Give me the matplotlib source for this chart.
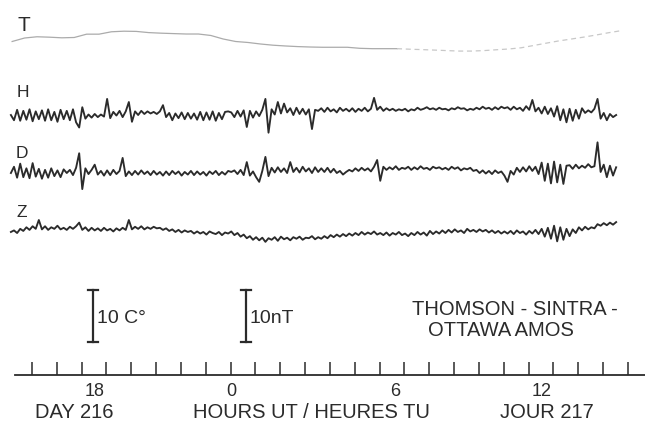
import matplotlib.pyplot as plt
import numpy as np

plt.rcParams['font.family'] = ['Liberation Sans', 'DejaVu Sans']

######### data #########

# magnetometer samples every 7.5 min (nT, relative to each trace's baseline)
sample_start = -8.85   # hours UT relative to 0h day 217
sample_step = 0.125

h_nt = [-0.2, -1.2, 0.8, -1.3, 0.6, -1.1, 0.9, -1.4, 0.5, -1.0,
        0.7, -1.3, 0.9, -1.2, 0.4, -1.5, 0.8, -1.0, 0.6, -1.2,
        0.9, -1.6, -2.6, 1.3, -0.9, -0.1, -0.7, 0.0, -0.6, -0.1,
        -0.5, 2.9, -0.8, 0.4, -0.3, 0.6, -0.6, 0.5, 2.3, -1.5,
        0.5, -0.2, 0.6, 0.0, 0.5, 0.1, 0.4, 0.0, 0.5, 1.7,
        -0.6, 0.2, -1.2, 0.1, -0.8, 0.3, -1.0, 0.2, -0.9, 0.1,
        -1.1, 0.4, -1.2, 0.3, -1.1, 0.5, -1.3, 0.2, -1.0, 0.4,
        0.5, 0.3, -0.6, 0.6, -0.5, 0.7, -2.5, 0.6, -0.7, 0.5,
        -0.4, 0.8, 2.9, -3.6, 0.9, -0.1, 2.3, 0.1, 2.0, 0.3,
        1.1, -0.2, 1.2, 0.0, 1.0, -0.1, 0.9, -2.9, 0.8, 0.6,
        1.1, 0.4, 1.2, 0.5, 0.9, 0.3, 1.2, 0.6, 1.0, 0.5,
        1.1, 0.4, 1.0, 0.6, 1.2, 0.5, 1.0, 3.1, 0.8, 1.4,
        0.6, 1.1, 0.7, 1.0, 0.6, 0.9, 0.7, 1.0, 0.5, 0.9,
        0.7, 1.2, 0.8, 1.0, 1.3, 0.9, 1.1, 0.8, 1.2, 0.9,
        1.0, 0.7, 1.1, 0.9, 1.3, 1.0, 1.1, 0.7, 1.0, 0.8,
        1.2, 0.9, 1.4, 1.0, 1.2, 0.8, 1.3, 0.9, 1.4, 1.1,
        1.3, 0.8, 1.4, 0.9, 1.2, 0.6, 1.5, 0.8, 2.7, 0.5,
        1.2, 0.1, 1.4, 0.0, 1.1, -0.5, 1.5, -1.2, 0.9, -1.6,
        1.0, -1.3, 0.8, -0.9, 1.1, 0.2, 0.7, 0.3, 1.0, 2.9,
        -0.9, 0.2, -1.2, 0.0, -0.6, -0.2]

d_nt = [0.0, 1.2, -0.9, 1.8, -0.8, 0.9, -1.0, 1.9, -0.7, 0.8,
        -1.1, 0.6, -0.9, 0.9, -0.6, 0.5, -0.8, 0.7, 0.0, 0.6,
        -0.4, 1.0, 3.8, -3.1, 0.9, -0.2, 0.6, 1.6, -0.3, 0.4,
        -0.5, 0.5, -0.4, 0.6, -0.2, 0.4, 2.9, -0.6, 0.3, -0.4,
        0.4, -0.3, 0.5, -0.2, 0.3, -0.4, 0.4, -0.3, 0.2, -0.5,
        0.3, -0.4, 0.4, -0.2, 0.3, -0.5, 0.2, -0.3, 0.4, -0.4,
        0.3, -0.3, 0.2, -0.5, 0.3, -0.2, 0.4, -0.4, 0.2, -0.3,
        0.4, 0.2, 0.5, -0.2, 0.6, -0.4, 2.1, -0.5, 0.3, -0.8,
        -1.7, 0.4, 3.1, -0.6, 1.0, 0.1, 1.1, 0.2, 0.9, 0.0,
        2.1, 0.2, 1.0, 0.1, 1.2, 0.3, 0.9, 0.0, 1.1, 0.2,
        0.9, 0.2, 1.0, 0.1, 0.8, 0.0, 0.4, -0.3, 0.2, 0.6,
        0.3, 0.9, 0.4, 1.0, 0.5, 0.9, 0.3, 1.2, 2.5, -1.5,
        1.2, 0.6, 1.1, 0.7, 1.3, 0.6, 1.0, 0.8, 1.2, 0.6,
        1.1, 0.7, 1.3, 0.8, 1.0, 0.6, 1.2, 0.9, 1.1, 0.7,
        1.0, 0.6, 1.2, 0.8, 1.1, 0.5, 0.9, 0.7, 1.0, 0.4,
        0.6, 0.0, 0.5, -0.1, 0.4, -0.2, 0.5, 0.0, 0.3, -0.5,
        -1.7, 0.4, -0.3, 1.0, 0.2, 1.1, 0.3, 1.3, 0.4, 1.2,
        -0.2, 2.0, -1.5, 1.8, -2.0, 2.2, -1.8, 1.6, -2.1, 1.4,
        1.5, 0.8, 1.6, 0.9, 1.4, 1.0, 1.7, 1.1, 1.3, 5.9,
        0.2, 1.6, -0.8, 1.4, -0.5, 1.1]

z_nt = [0.0, 0.3, -0.2, 0.6, 0.2, 0.9, 0.4, 1.1, 0.6, 2.3,
        0.5, 1.1, 0.4, 0.9, 0.6, 1.2, 0.5, 0.8, 0.4, 1.0,
        0.6, 1.1, 1.8, 0.4, 0.9, 0.2, 0.8, 0.3, 0.7, 0.2,
        0.8, 0.3, 0.6, 0.1, 0.7, 0.3, 0.8, 0.4, 2.3, 0.5,
        1.0, 0.6, 1.1, 0.5, 0.9, 0.6, 1.0, 0.7, 0.8, 0.4,
        0.7, 0.2, 0.5, 0.0, 0.4, -0.1, 0.3, 0.0, 0.2, -0.3,
        0.1, -0.3, 0.0, -0.5, 0.1, -0.2, -0.4, 0.0, -0.6, -0.1,
        -0.3, 0.1, -0.6, -0.2, -0.9, -0.5, -1.2, -0.8, -1.5, -1.0,
        -1.6, -1.1, -1.9, -1.2, -1.5, -1.0, -1.7, -0.9, -1.4, -1.1,
        -1.6, -1.0, -1.3, -0.9, -1.5, -1.1, -1.2, -0.8, -1.4, -1.0,
        -1.3, -0.8, -1.2, -0.6, -1.0, -0.5, -0.9, -0.4, -0.8, -0.3,
        -0.7, -0.2, -0.6, 0.0, -0.5, -0.1, -0.4, 0.1, -0.5, -0.2,
        -0.6, -0.1, -0.7, -0.2, -0.5, 0.0, -0.6, -0.3, -0.8, -0.2,
        -0.6, 0.0, -0.5, -0.1, -0.7, 0.2, -0.4, 0.1, -0.3, 0.3,
        -0.2, 0.4, -0.1, 0.5, 0.0, 0.3, -0.2, 0.6, 0.1, 0.4,
        0.0, 0.5, 0.1, 0.4, -0.1, 0.3, -0.2, 0.2, -0.3, 0.1,
        -0.3, 0.2, -0.4, 0.3, -0.2, 0.1, -0.5, 0.2, -0.3, 0.4,
        -0.4, 0.6, -0.9, 0.8, -1.3, 1.2, -1.8, 0.9, -1.5, 0.6,
        -0.8, 0.5, -0.2, 0.9, 0.3, 1.0, 0.5, 0.9, 0.7, 1.5,
        1.2, 1.7, 1.3, 1.8, 1.4, 1.9]

# temperature every 30 min (C deg, relative to trace baseline)
temp_start = -8.8
temp_step = 0.5
temp_c = [-0.29, 0.38, 0.62, 0.54, 0.42, 0.48, 1.12, 1.12, 1.58, 1.69,
          1.65, 1.42, 1.31, 1.23, 1.15, 1.15, 0.87, 0.19, -0.29, -0.48,
          -0.77, -1.0, -1.15, -1.27, -1.35, -1.4, -1.4, -1.4, -1.6, -1.67,
          -1.67, -1.67, -1.77, -1.85, -1.94, -2.04, -2.13, -2.13, -2.04, -1.88,
          -1.73, -1.5, -1.06, -0.62, -0.19, 0.17, 0.54, 0.94, 1.38, 1.77]

hour_ticks = list(range(-8, 17))
hour_labels = ['18', '0', '6', '12']
hour_label_pos = [-5.46, 0.01, 6.62, 12.54]

########################

ink = '#2b2b2b'

fig = plt.figure(figsize=(6.45, 4.21), dpi=100)
ax = fig.add_axes([0, 0, 1, 1])
ax.set_xlim(-9.289, 16.687)
ax.set_ylim(0, 80.96)
ax.axis('off')

# traces, each on its own baseline (same vertical scale for nT and C deg)
t = sample_start + sample_step * np.arange(len(h_nt))
ax.plot(t, 59.04 + np.array(h_nt), color=ink, lw=1.35)
ax.plot(t, 47.69 + np.array(d_nt), color=ink, lw=1.35)
ax.plot(t, 36.35 + np.array(z_nt), color=ink, lw=1.35)

tt = temp_start + temp_step * np.arange(len(temp_c))
ty = 73.27 + np.array(temp_c)
ax.plot(tt[:32], ty[:32], color='#ababab', lw=0.9)
ax.plot(tt[31:], ty[31:], color='#c8c8c8', lw=0.9, ls=(0, (4, 3)))

for name, x, y, fs in [('T', -8.32, 75.0, 15), ('H', -8.38, 62.31, 12.5),
                       ('D', -8.40, 50.58, 12.5), ('Z', -8.40, 39.23, 12.5)]:
    ax.text(x, y, name, fontsize=fs, color=ink, ha='center', va='baseline')

# scale bars: 10 C deg and 10 nT
for xb, label in [(-5.543, '10 C°'), (0.619, '10nT')]:
    ax.plot([xb, xb], [15.19, 25.19], color=ink, lw=1.6)
    ax.plot([xb - 0.2, xb + 0.2], [25.19, 25.19], color=ink, lw=1.6)
    ax.plot([xb - 0.2, xb + 0.2], [15.19, 15.19], color=ink, lw=1.6)
    ax.text(xb + 0.16, 18.85, label, fontsize=14, color=ink, ha='left', va='baseline')

ax.text(11.43, 20.38, 'THOMSON - SINTRA -', fontsize=14.5, color=ink, ha='center', va='baseline')
ax.text(10.89, 16.35, 'OTTAWA AMOS', fontsize=14.5, color=ink, ha='center', va='baseline')

# time axis
ax.plot([-8.685, 16.687], [8.75, 8.75], color=ink, lw=1.3)
ax.vlines(hour_ticks, 8.75, 11.25, color=ink, lw=1.1)
for lab, x in zip(hour_labels, hour_label_pos):
    ax.text(x, 4.81, lab, fontsize=13, color=ink, ha='center', va='baseline')

ax.text(-6.31, 0.58, 'DAY 216', fontsize=14.5, color=ink, ha='center', va='baseline')
ax.text(3.24, 0.58, 'HOURS UT / HEURES TU', fontsize=14.5, color=ink, ha='center', va='baseline')
ax.text(12.74, 0.58, 'JOUR 217', fontsize=14.5, color=ink, ha='center', va='baseline')

fig.savefig('out.png', dpi=100)
